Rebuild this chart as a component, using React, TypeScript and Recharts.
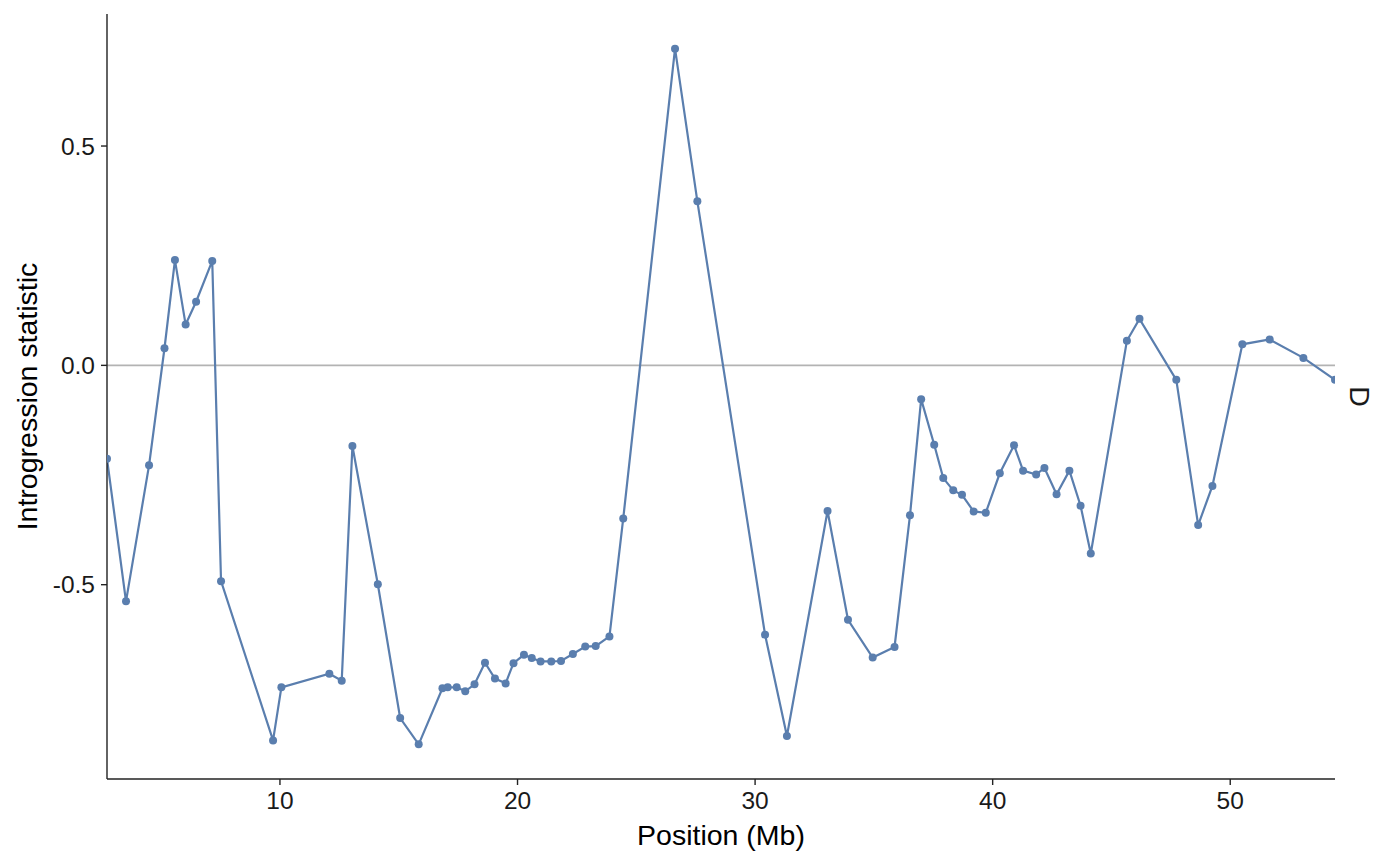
import { CartesianGrid, Label, Line, LineChart, ReferenceLine, XAxis, YAxis } from 'recharts';

// positions along the chromosome (Mb) and the D statistic per window
const positions = [
  2.72, 3.52, 4.49, 5.14, 5.58, 6.03, 6.47, 7.15, 7.52, 9.71,
  10.06, 12.08, 12.6, 13.05, 14.12, 15.06, 15.84, 16.84, 17.06, 17.44,
  17.8, 18.19, 18.63, 19.05, 19.5, 19.83, 20.27, 20.6, 20.97, 21.42,
  21.83, 22.33, 22.85, 23.29, 23.87, 24.45, 26.63, 27.57, 30.42, 31.34,
  33.05, 33.91, 34.95, 35.87, 36.52, 36.99, 37.54, 37.92, 38.34, 38.71,
  39.2, 39.71, 40.3, 40.9, 41.28, 41.83, 42.18, 42.69, 43.23, 43.7,
  44.13, 45.65, 46.18, 47.73, 48.65, 49.25, 50.51, 51.66, 53.08, 54.41,
];

const dValues = [
  -0.213, -0.538, -0.228, 0.039, 0.24, 0.093, 0.145, 0.238, -0.492, -0.855,
  -0.734, -0.703, -0.719, -0.184, -0.499, -0.804, -0.864, -0.736, -0.734, -0.734,
  -0.743, -0.727, -0.678, -0.714, -0.725, -0.679, -0.66, -0.667, -0.675, -0.675,
  -0.674, -0.658, -0.641, -0.64, -0.618, -0.349, 0.722, 0.374, -0.614, -0.845,
  -0.332, -0.58, -0.666, -0.642, -0.342, -0.077, -0.181, -0.257, -0.285, -0.295,
  -0.333, -0.336, -0.246, -0.182, -0.24, -0.249, -0.234, -0.294, -0.24, -0.32,
  -0.429, 0.056, 0.106, -0.033, -0.364, -0.275, 0.048, 0.059, 0.017, -0.033,
];

const xTicks = [10, 20, 30, 40, 50];
const yTicks = [-0.5, 0, 0.5];
const facetLabel = 'D';

const data = positions.map((pos, i) => ({ pos, d: dValues[i] }));

const FONT = '"Liberation Sans", Arial, Helvetica, sans-serif';
const LINE_COLOR = '#5a7eae';
const AXIS_COLOR = '#222';

export default function App() {
  return (
    <div style={{ position: 'absolute', left: 0, top: 0 }}>
      <LineChart width={1400} height={865} data={data} margin={{ top: 14, right: 65, left: 0, bottom: 0 }}>
        <CartesianGrid stroke="none" />
        <XAxis
          dataKey="pos"
          type="number"
          domain={[2.72, 54.41]}
          allowDataOverflow
          ticks={xTicks}
          height={86}
          tick={{ fontSize: 24.5, fill: '#1a1a1a', fontFamily: FONT }}
          tickSize={6}
          tickMargin={7}
          axisLine={{ stroke: AXIS_COLOR, strokeWidth: 1.4 }}
          tickLine={{ stroke: AXIS_COLOR, strokeWidth: 1.4 }}
        >
          <Label
            content={({ viewBox }: any) => (
              <text
                x={viewBox.x + viewBox.width / 2}
                y={viewBox.y + 56}
                textAnchor="middle"
                dominantBaseline="central"
                fontSize={28.5}
                fontFamily={FONT}
                fill="#000"
              >
                Position (Mb)
              </text>
            )}
          />
          <Label
            content={({ viewBox }: any) => {
              const x = viewBox.x + viewBox.width + 25;
              const y = 14 + (viewBox.y - 14) / 2;
              return (
                <text
                  x={x}
                  y={y}
                  transform={`rotate(90 ${x} ${y})`}
                  textAnchor="middle"
                  dominantBaseline="central"
                  fontSize={28.5}
                  fontFamily={FONT}
                  fill="#1a1a1a"
                >
                  {facetLabel}
                </text>
              );
            }}
          />
        </XAxis>
        <YAxis
          type="number"
          domain={[-0.943, 0.801]}
          allowDataOverflow
          ticks={yTicks}
          width={107}
          tickFormatter={(v: number) => v.toFixed(1)}
          tick={{ fontSize: 24.5, fill: '#1a1a1a', fontFamily: FONT }}
          tickSize={6}
          tickMargin={6}
          axisLine={{ stroke: AXIS_COLOR, strokeWidth: 1.4 }}
          tickLine={{ stroke: AXIS_COLOR, strokeWidth: 1.4 }}
        >
          <Label
            content={({ viewBox }: any) => {
              const x = 27;
              const y = viewBox.y + viewBox.height / 2;
              return (
                <text
                  x={x}
                  y={y}
                  transform={`rotate(-90 ${x} ${y})`}
                  textAnchor="middle"
                  dominantBaseline="central"
                  fontSize={28.5}
                  fontFamily={FONT}
                  fill="#000"
                >
                  Introgression statistic
                </text>
              );
            }}
          />
        </YAxis>
        <ReferenceLine y={0} stroke="#b3b3b3" strokeWidth={1.6} />
        <Line
          type="linear"
          dataKey="d"
          stroke={LINE_COLOR}
          strokeWidth={2.2}
          dot={{ r: 4, fill: LINE_COLOR, stroke: LINE_COLOR, strokeWidth: 0 }}
          activeDot={false}
          isAnimationActive={false}
        />
      </LineChart>
    </div>
  );
}
